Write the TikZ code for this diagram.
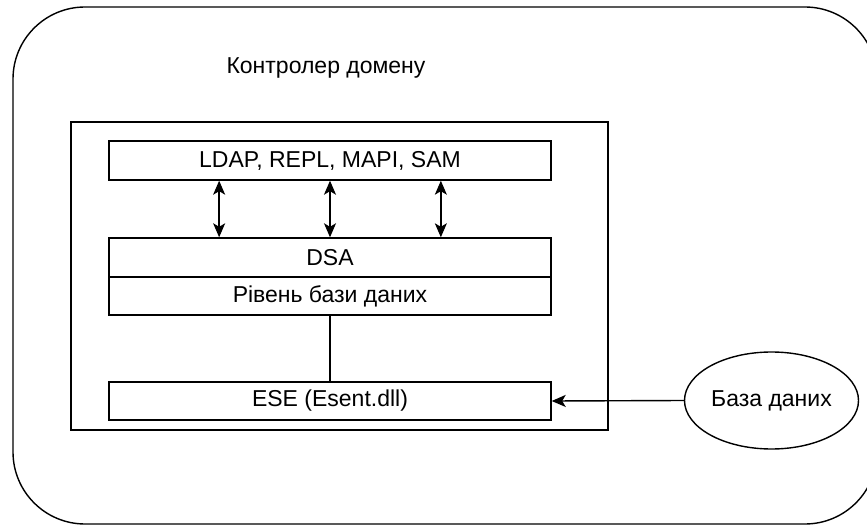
\documentclass[tikz,border=0pt]{standalone}
\usepackage{fontspec}
\setmainfont{Liberation Sans}
\usetikzlibrary{shapes.geometric,arrows.meta,calc}
\begin{document}
\begin{tikzpicture}[x=1pt,y=-1pt,
  lw/.style={line width=1.4pt},
  txt/.style={font=\fontsize{23}{27}\selectfont},
  layer/.style={draw,lw,txt,minimum width=442pt,minimum height=39pt,inner sep=0pt},
  tipend/.style={-{Stealth[length=14pt,width=12pt,inset=3.5pt]}},
  tipboth/.style={{Stealth[length=14pt,width=12pt,inset=3.5pt]}-{Stealth[length=14pt,width=12pt,inset=3.5pt]}}
]
\useasboundingbox (0,0) rectangle (867,526);
\begin{scope}
  \clip (0,0) rectangle (867,526);
  \node[draw,lw,rounded corners=72pt,minimum width=864pt,minimum height=517pt,inner sep=0pt] (dc) at (445,265.5) {};
\end{scope}
\node[txt] (title) at (326,68) {Контролер домену};
\node[draw,lw,minimum width=537pt,minimum height=308pt,inner sep=0pt] (inner) at (339.5,276) {};
\node[layer] (ldap) at (330,160.5) {LDAP, REPL, MAPI, SAM};
\node[layer] (dsa) at (330,257.5) {DSA};
\node[layer,minimum height=38pt] (level) at (330,296) {Рівень бази даних};
\node[layer,minimum height=38pt] (ese) at (330,401) {ESE (Esent.dll)};
\node[draw,lw,ellipse,txt,minimum width=174pt,minimum height=97pt,inner sep=0pt] (db) at (771.5,400.5) {База даних};
\foreach \f in {0.25,0.5,0.75}{
  \draw[lw,tipboth] ($(ldap.south west)!\f!(ldap.south east)$) -- ($(dsa.north west)!\f!(dsa.north east)$);
}
\draw[lw] (level.south) -- (ese.north);
\draw[lw,tipend] (db.west) -- (ese.east);
\end{tikzpicture}
\end{document}
